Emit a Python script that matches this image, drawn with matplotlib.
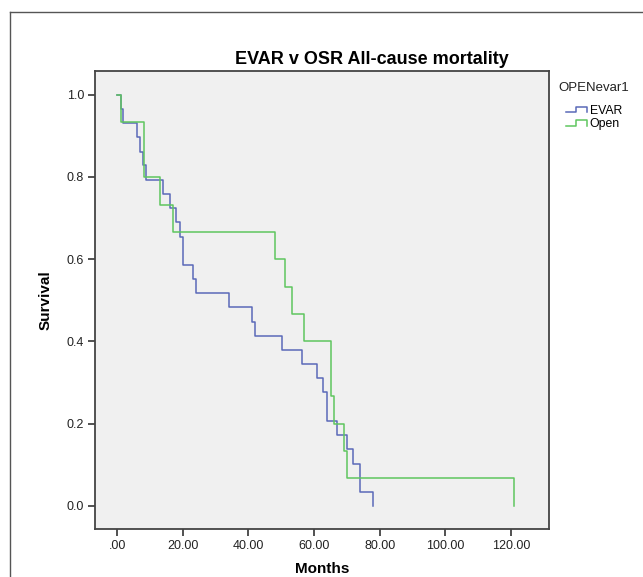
"""Kaplan-Meier style survival plot: EVAR vs open surgical repair."""
import matplotlib
matplotlib.use("Agg")
import matplotlib.pyplot as plt
from matplotlib.legend_handler import HandlerBase
from matplotlib.lines import Line2D

# event times (months) and survival after each step
evar_t = [0, 1.1, 1.8, 5.9, 6.9, 7.9, 8.75, 14.0, 16.1, 17.9, 19.1, 20.1, 23.2,
          24.0, 34.1, 41.0, 42.0, 50.1, 56.2, 61.0, 62.8, 63.8, 66.9, 69.9,
          72.0, 74.0, 78.0]
evar_s = [1.0, 0.966, 0.931, 0.897, 0.862, 0.828, 0.793, 0.759, 0.724, 0.690,
          0.655, 0.586, 0.552, 0.517, 0.483, 0.448, 0.414, 0.379, 0.345, 0.310,
          0.276, 0.207, 0.172, 0.138, 0.103, 0.034, 0.0]

open_t = [0, 1.1, 8.1, 13.0, 17.1, 48.1, 51.1, 53.2, 57.0, 65.2, 66.1, 69.1,
          70.1, 121.0]
open_s = [1.0, 0.933, 0.800, 0.733, 0.667, 0.600, 0.533, 0.467, 0.400, 0.267,
          0.200, 0.133, 0.067, 0.0]

x_ticks = [0, 20, 40, 60, 80, 100, 120]
x_labels = [".00", "20.00", "40.00", "60.00", "80.00", "100.00", "120.00"]
y_ticks = [0.0, 0.2, 0.4, 0.6, 0.8, 1.0]

BLUE = "#5a69b8"
GREEN = "#5fc65f"
INK = "#333333"

plt.rcParams["font.family"] = ["Liberation Sans", "DejaVu Sans"]


class StepHandler(HandlerBase):
    """Small step icon like the SPSS legend."""

    def create_artists(self, legend, orig, xd, yd, w, h, fontsize, trans):
        xs = [xd, xd + 0.45 * w, xd + 0.45 * w, xd + w, xd + w]
        ys = [yd + 0.2 * h, yd + 0.2 * h, yd + 0.85 * h, yd + 0.85 * h, yd + 0.2 * h]
        ln = Line2D(xs, ys, color=orig.get_color(), lw=orig.get_linewidth(),
                    transform=trans)
        return [ln]


fig = plt.figure(figsize=(6.43, 5.77), dpi=100)
ax = fig.add_axes([0.1482, 0.0832, 0.7061, 0.7932])
ax.set_facecolor("#f0f0f0")

l1, = ax.step(evar_t, evar_s, where="post", color=BLUE, lw=1.1, label="EVAR")
l2, = ax.step(open_t, open_s, where="post", color=GREEN, lw=1.1, label="Open")

ax.set_xlim(-6.7, 131.7)
ax.set_ylim(-0.056, 1.057)
ax.set_xticks(x_ticks)
ax.set_xticklabels(x_labels)
ax.set_yticks(y_ticks)
ax.set_yticklabels([f"{v:.1f}" for v in y_ticks])
ax.tick_params(direction="out", length=5, width=1.2, color=INK,
               labelsize=9, labelcolor="#222222", pad=3)
for sp in ax.spines.values():
    sp.set_color("#444444")
    sp.set_linewidth(1.3)

ax.set_xlabel("Months", fontsize=11, fontweight="bold", labelpad=7)
ax.set_ylabel("Survival", fontsize=11, fontweight="bold", labelpad=10)

fig.text(372 / 643, 1 - 60 / 577, "EVAR v OSR All-cause mortality",
         ha="center", va="center", fontsize=13, fontweight="bold")

# legend: title as plain text, entries indented under it
fig.text(558 / 643, 1 - 88 / 577, "OPENevar1", ha="left", va="center",
         fontsize=9.5, color="#222222")
fig.legend(handles=[l1, l2], loc="upper left",
           bbox_to_anchor=(566 / 643, 1 - 105 / 577),
           frameon=False, fontsize=8.8, borderpad=0, borderaxespad=0,
           handler_map={Line2D: StepHandler()},
           handlelength=1.75, handletextpad=0.2, labelspacing=0.1)

# outer chart frame (clipped by the image edges)
fig.add_artist(Line2D([10 / 643, 1.0], [1 - 12 / 577, 1 - 12 / 577],
                      transform=fig.transFigure, color="#555555", lw=1))
fig.add_artist(Line2D([10 / 643, 10 / 643], [1 - 12 / 577, 0.0],
                      transform=fig.transFigure, color="#555555", lw=1))

fig.savefig("out.png", dpi=100)
